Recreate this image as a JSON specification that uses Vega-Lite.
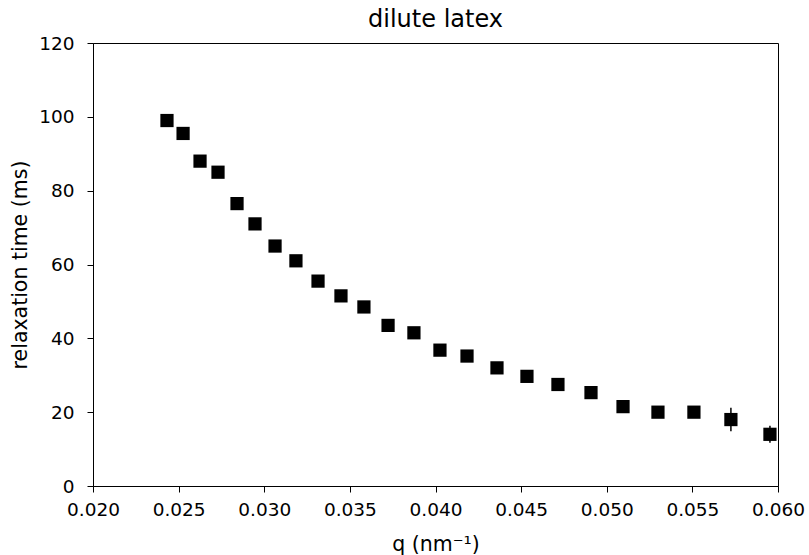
{
  "$schema": "https://vega.github.io/schema/vega-lite/v6.json",
  "autosize": "none",
  "width": 685,
  "height": 443,
  "padding": {"left": 93, "top": 43, "right": 31, "bottom": 69},
  "background": "white",
  "title": {"text": "dilute latex", "font": "DejaVu Sans", "fontSize": 24, "fontWeight": "normal", "color": "black", "offset": 2},
  "config": {
    "view": {"stroke": "black", "strokeWidth": 1},
    "axis": {
      "grid": false,
      "domainColor": "black",
      "tickColor": "black",
      "tickSize": 6,
      "labelFont": "DejaVu Sans",
      "labelFontSize": 18.5,
      "labelColor": "black",
      "labelFlush": false,
      "titleFont": "DejaVu Sans",
      "titleFontSize": 20.5,
      "titleFontWeight": "normal",
      "titleColor": "black"
    }
  },
  "data": {
    "values": [
      {"q": 0.02432, "tau": 99.0, "err": 1.0},
      {"q": 0.02526, "tau": 95.5, "err": 1.0},
      {"q": 0.02625, "tau": 88.0, "err": 1.0},
      {"q": 0.02730, "tau": 85.0, "err": 1.0},
      {"q": 0.02841, "tau": 76.5, "err": 1.0},
      {"q": 0.02946, "tau": 71.0, "err": 1.0},
      {"q": 0.03063, "tau": 65.0, "err": 1.0},
      {"q": 0.03185, "tau": 61.0, "err": 1.0},
      {"q": 0.03314, "tau": 55.5, "err": 1.0},
      {"q": 0.03448, "tau": 51.5, "err": 1.0},
      {"q": 0.03582, "tau": 48.5, "err": 1.0},
      {"q": 0.03723, "tau": 43.5, "err": 1.0},
      {"q": 0.03874, "tau": 41.5, "err": 1.0},
      {"q": 0.04026, "tau": 36.8, "err": 1.0},
      {"q": 0.04184, "tau": 35.2, "err": 1.0},
      {"q": 0.04359, "tau": 32.0, "err": 1.0},
      {"q": 0.04534, "tau": 29.7, "err": 1.0},
      {"q": 0.04715, "tau": 27.5, "err": 1.0},
      {"q": 0.04908, "tau": 25.3, "err": 1.0},
      {"q": 0.05095, "tau": 21.5, "err": 1.0},
      {"q": 0.05299, "tau": 20.0, "err": 1.0},
      {"q": 0.05509, "tau": 20.0, "err": 1.0},
      {"q": 0.05725, "tau": 18.0, "err": 3.2},
      {"q": 0.05953, "tau": 14.0, "err": 2.3}
    ]
  },
  "transform": [
    {"calculate": "datum.tau - datum.err", "as": "lo"},
    {"calculate": "datum.tau + datum.err", "as": "hi"}
  ],
  "layer": [
    {
      "mark": {"type": "rule", "color": "black", "strokeWidth": 1.5},
      "encoding": {
        "x": {"field": "q", "type": "quantitative"},
        "y": {"field": "lo", "type": "quantitative"},
        "y2": {"field": "hi"}
      }
    },
    {
      "mark": {"type": "point", "shape": "square", "filled": true, "color": "black", "size": 175, "opacity": 1},
      "encoding": {
        "x": {
          "field": "q", "type": "quantitative",
          "scale": {"domain": [0.02, 0.06], "nice": false, "zero": false},
          "axis": {"title": "q (nm⁻¹)", "values": [0.02, 0.025, 0.03, 0.035, 0.04, 0.045, 0.05, 0.055, 0.06], "format": ".3f", "labelPadding": 8, "titlePadding": 16}
        },
        "y": {
          "field": "tau", "type": "quantitative",
          "scale": {"domain": [0, 120], "nice": false},
          "axis": {"title": "relaxation time (ms)", "values": [0, 20, 40, 60, 80, 100, 120], "labelPadding": 13, "titlePadding": 8}
        }
      }
    }
  ]
}
